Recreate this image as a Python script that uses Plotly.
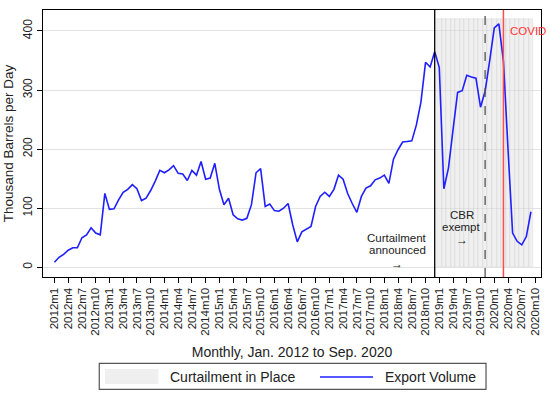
import plotly.graph_objects as go

# ---- data ----
years = list(range(2012, 2021))
all_labels = [f"{y}m{m}" for y in years for m in range(1, 13)]
export_volume = [
    8.5, 17, 22, 29, 33, 33, 50, 55, 67, 58, 55, 125,
    98, 99, 114, 127, 132, 140, 133, 113, 117, 130, 146, 164,
    160, 165, 172, 159, 158, 147, 164, 156, 179, 149, 151, 176,
    132, 106, 117, 89, 82, 80, 83, 106, 160, 167, 103, 107,
    96, 95, 100, 108, 72, 43, 60, 65, 69, 103, 120, 127,
    120, 132, 156, 149, 125, 108, 93, 120, 134, 138, 148, 151,
    156, 142, 183, 199, 212, 213, 214, 241, 280, 347, 339, 365,
    338, 133, 168, 233, 296, 299, 325, 322, 320, 271, 298, 350,
    405, 412, 349, 200, 58, 44, 38, 52, 94,
]
tick_positions = list(range(0, 106, 3))
tick_labels = [all_labels[i] for i in tick_positions]  # 2012m1 .. 2020m10
curtail_start, curtail_end = "2019m1", "2020m9"
curtail_height = 420
announce_month = "2018m12"
cbr_exempt_month = "2019m11"
covid_month = "2020m3"

idx = {lab: i for i, lab in enumerate(all_labels)}
x_vals = list(range(len(export_volume)))
curtail_x = list(range(idx[curtail_start], idx[curtail_end] + 1))

FONT = "Liberation Sans, Arial, sans-serif"
BLUE = "#1f1fff"
SHADE = "#efefef"

fig = go.Figure()
fig.add_trace(go.Bar(
    x=curtail_x, y=[curtail_height] * len(curtail_x), width=1,
    marker=dict(color="rgba(222,222,222,0.45)", line=dict(color="rgba(205,205,205,0.5)", width=0.6)),
    name="Curtailment in Place", hoverinfo="skip", showlegend=False,
))
fig.add_trace(go.Scatter(
    x=x_vals, y=export_volume, mode="lines",
    line=dict(color=BLUE, width=1.6), name="Export Volume", showlegend=False,
))

for m, col, dash, w in [(announce_month, "black", "solid", 1.3),
                         (cbr_exempt_month, "#555555", "dash", 1.3),
                         (covid_month, "#ff4d4d", "solid", 1.5)]:
    fig.add_shape(type="line", xref="x", yref="paper", x0=idx[m], x1=idx[m], y0=0, y1=1,
                  line=dict(color=col, width=w, dash=dash))

ann_font = dict(family=FONT, size=11.5, color="#222222")
arrow_font = dict(family=FONT, size=12, color="#222222")
for txt, xx, yy, f in [("Curtailment", 74.8, 49.6, ann_font), ("announced", 74.8, 29.3, ann_font),
                       ("→", 74.8, 6.0, arrow_font),
                       ("CBR", 88.9, 88.5, ann_font), ("exempt", 88.9, 68.7, ann_font),
                       ("→", 88.9, 46.5, arrow_font)]:
    fig.add_annotation(x=xx, y=yy, text=txt, showarrow=False, font=f,
                       xanchor="center", yanchor="middle", borderpad=0)
fig.add_annotation(x=98.9, y=400, text="COVID", showarrow=False, xanchor="left", yanchor="middle",
                   font=dict(family=FONT, size=11.5, color="#ff3333"))

# ---- legend (drawn in paper coordinates below the axis) ----
fig.add_shape(type="rect", xref="paper", yref="paper", x0=0.113, x1=0.8896, y0=-0.4206, y1=-0.3232,
              line=dict(color="#555555", width=1.2), fillcolor="white")
fig.add_shape(type="rect", xref="paper", yref="paper", x0=0.1245, x1=0.2315, y0=-0.4007, y1=-0.3446,
              line=dict(width=0), fillcolor=SHADE)
fig.add_shape(type="line", xref="paper", yref="paper", x0=0.5562, x1=0.6627, y0=-0.3745, y1=-0.3745,
              line=dict(color=BLUE, width=1.6))
fig.add_annotation(xref="paper", yref="paper", x=0.251, y=-0.3745, text="Curtailment in Place",
                   showarrow=False, xanchor="left", yanchor="middle",
                   font=dict(family=FONT, size=14, color="#222222"))
fig.add_annotation(xref="paper", yref="paper", x=0.6821, y=-0.3745, text="Export Volume",
                   showarrow=False, xanchor="left", yanchor="middle",
                   font=dict(family=FONT, size=14, color="#222222"))

fig.update_layout(
    width=550, height=399,
    margin=dict(l=43, r=9, t=10, b=122, autoexpand=False),
    paper_bgcolor="white", plot_bgcolor="white",
    font=dict(family=FONT, size=12, color="#222222"),
    bargap=0,
    showlegend=False,
    xaxis=dict(range=[-2.5, 106.2], tickmode="array", tickvals=tick_positions, ticktext=tick_labels,
               tickangle=-90, tickfont=dict(size=11.5), ticks="outside", ticklen=5, tickcolor="black",
               showgrid=False, showline=True, linecolor="black", linewidth=1.3, mirror=True,
               zeroline=False, automargin=False,
               title=dict(text="Monthly, Jan. 2012 to Sep. 2020", font=dict(size=14), standoff=12)),
    yaxis=dict(range=[-16.4, 435.5], tickvals=[0, 100, 200, 300, 400], tickangle=-90,
               tickfont=dict(size=12), ticks="outside", ticklen=5, tickcolor="black",
               showgrid=True, gridcolor="#e3e3e3", gridwidth=1, automargin=False,
               showline=True, linecolor="black", linewidth=1.3, mirror=True, zeroline=False,
               title=dict(text="Thousand Barrels per Day", font=dict(size=13.5), standoff=4)),
)

fig.write_html("out.html", config={"displayModeBar": False},
               post_script="document.body.style.margin='0';")
